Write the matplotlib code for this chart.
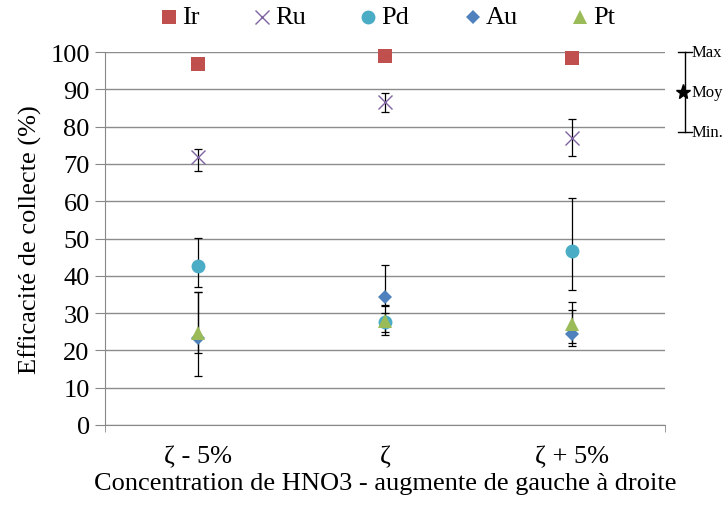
import numpy as np
import matplotlib.pyplot as plt
from matplotlib.lines import Line2D

plt.rcParams['font.family'] = ['Liberation Serif', 'DejaVu Serif']

# Categories (concentration of HNO3)
categories = ['ζ - 5%', 'ζ', 'ζ + 5%']

# Mean values (%)
ir = [96.7, 98.9, 98.5]
ru = [71.8, 86.6, 76.9]
pd_ = [42.6, 27.6, 46.6]
au = [23.3, 34.4, 24.4]
pt = [24.7, 27.9, 27.2]

# Min / max for error bars (None = no bar)
ru_min = [68.0, 84.0, 72.0]
ru_max = [74.0, 88.9, 82.0]
pd_min = [37.0, 25.0, 36.1]
pd_max = [50.1, 32.0, 60.9]
au_min = [13.1, 32.2, 21.3]
au_max = [35.6, 43.0, 30.8]
pt_min = [19.3, 24.1, 22.0]
pt_max = [35.6, 30.0, 33.0]

FS = 19

fig = plt.figure(figsize=(7.26, 5.06), dpi=100)
ax = fig.add_axes([105 / 726, 80 / 506, 560 / 726, 373 / 506])

x = np.arange(len(categories))

series = [
    ('Ir', ir, None, None, 's', '#C0504D', 10),
    ('Ru', ru, ru_min, ru_max, 'x', '#8064A2', 10),
    ('Pd', pd_, pd_min, pd_max, 'o', '#4BACC6', 10),
    ('Au', au, au_min, au_max, 'D', '#4F81BD', 7.5),
    ('Pt', pt, pt_min, pt_max, '^', '#9BBB59', 10),
]
# legend positions (pixels from left) of marker, as in the original
legend_px = [169, 262, 368, 473, 580]

for (name, vals, lo, hi, mk, col, ms), lx in zip(series, legend_px):
    vals = np.array(vals)
    mew = 1.0 if mk == 'x' else 0
    if lo is not None:
        yerr = [vals - np.array(lo), np.array(hi) - vals]
        ax.errorbar(x, vals, yerr=yerr, fmt='none', ecolor='black',
                    elinewidth=0.9, capsize=3, capthick=0.9, zorder=2)
    ax.plot(x, vals, linestyle='none', marker=mk, color=col,
            markersize=ms, markeredgewidth=mew, zorder=3, clip_on=False)
    ly = 1 - 18 / 506
    fig.add_artist(Line2D([lx / 726], [ly], linestyle='none', marker=mk, color=col,
                          markersize=ms, markeredgewidth=mew, transform=fig.transFigure))
    fig.text((lx + 13) / 726, ly, name, fontsize=FS, va='center', ha='left')

ax.set_xlim(-0.5, 2.5)
ax.set_ylim(0, 100)
ax.set_yticks(np.arange(0, 101, 10))
ax.set_xticks(x)
ax.set_xticklabels(categories)
ax.set_xticks([-0.5, 2.5], minor=True)
ax.tick_params(axis='x', which='major', length=0, labelsize=FS, pad=14)
ax.tick_params(axis='x', which='minor', length=5, color='#888888')
ax.tick_params(axis='y', length=7, color='#888888', labelsize=FS, pad=4)
ax.yaxis.grid(True, color='#8c8c8c', linewidth=1)
ax.set_axisbelow(True)
for side in ['top', 'right']:
    ax.spines[side].set_visible(False)
for side in ['left', 'bottom']:
    ax.spines[side].set_color('#888888')

ax.set_ylabel('Efficacité de collecte (%)', fontsize=FS, labelpad=6)
ax.set_xlabel('Concentration de HNO3 - augmente de gauche à droite', fontsize=FS, labelpad=4)

# Key for the error bars, at the right edge
kx = 685 / 726
ytop = 1 - 53 / 506
ybot = 1 - 133 / 506
ymid = (ytop + ybot) / 2
fig.add_artist(Line2D([kx, kx], [ybot, ytop], color='black', lw=1, transform=fig.transFigure))
for yy in (ytop, ybot):
    fig.add_artist(Line2D([kx - 7 / 726, kx + 7 / 726], [yy, yy], color='black', lw=1,
                          transform=fig.transFigure))
fig.add_artist(Line2D([kx - 2 / 726], [ymid], marker='*', color='black', markersize=11,
                      transform=fig.transFigure))
for txt, yy in (('Max', ytop), ('Moy', ymid), ('Min.', ybot)):
    fig.text(kx + 7 / 726, yy, txt, fontsize=12, va='center', ha='left')

fig.savefig('out.png', dpi=100)
